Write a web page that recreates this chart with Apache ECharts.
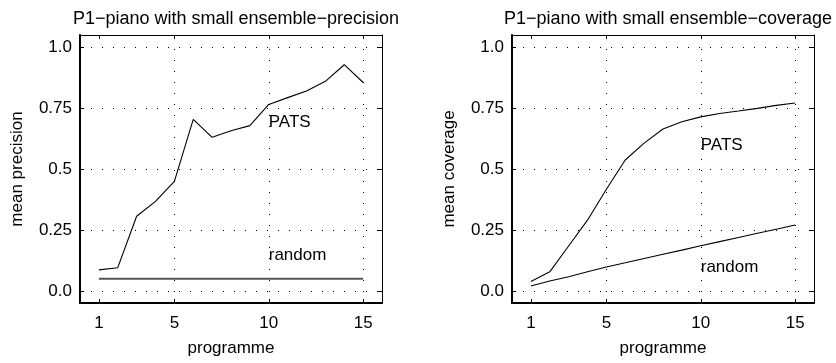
<!DOCTYPE html>
<html>
<head>
<meta charset="utf-8">
<script src="https://cdn.jsdelivr.net/npm/echarts@6/dist/echarts.min.js"></script>
<style>html,body{margin:0;padding:0;background:#fff}#c{width:836px;height:363px}</style>
</head>
<body>
<div id="c"></div>
<script>
var programmes = [1,2,3,4,5,6,7,8,9,10,11,12,13,14,15];
var precisionPATS = [0.086,0.095,0.306,0.367,0.449,0.704,0.630,0.657,0.678,0.765,0.793,0.820,0.860,0.928,0.855];
var precisionRandom = [0.05,0.05,0.05,0.05,0.05,0.05,0.05,0.05,0.05,0.05,0.05,0.05,0.05,0.05,0.05];
var coveragePATS = [0.038,0.078,0.184,0.290,0.417,0.537,0.606,0.664,0.694,0.714,0.728,0.738,0.749,0.761,0.771];
var coverageRandom = [0.020,0.040,0.058,0.078,0.098,0.115,0.133,0.150,0.167,0.185,0.202,0.219,0.236,0.253,0.270];
var xTicks = [1,5,10,15];
var xGrid = [5,10,15];
var yTicks = [0,0.25,0.5,0.75,1];
var yTickLabels = ['0.0','0.25','0.5','0.75','1.0'];
var titles = ['P1\u2212piano with small ensemble\u2212precision','P1\u2212piano with small ensemble\u2212coverage'];
var yNames = ['mean precision','mean coverage'];
var xName = 'programme';
var labelPATS = 'PATS', labelRandom = 'random';
var annotPrec = {pats:[10,0.69], random:[10,0.146]};
var annotCov = {pats:[10,0.596], random:[10,0.095]};

var FONT = 'Liberation Sans, Arial, sans-serif';
function pairs(xs, ys){ return xs.map(function(x,i){return [x, ys[i]];}); }
function yFmt(v){ var i = yTicks.indexOf(v); return i>=0 ? yTickLabels[i] : ''; }

var grids = [
  {left:80, top:35, width:302, height:268, outerBoundsMode:'none', containLabel:false},
  {left:512, top:35, width:302, height:268, outerBoundsMode:'none', containLabel:false}
];
var xAxes = [], yAxes = [], series = [];
for (var g=0; g<2; g++){
  xAxes.push({type:'value', gridIndex:g, min:0, max:16, position:'bottom',
    name:xName, nameLocation:'middle', nameGap:37,
    nameTextStyle:{fontFamily:FONT, fontSize:17, color:'#000'},
    axisLine:{show:true, onZero:false, lineStyle:{color:'#000', width:2}},
    axisTick:{show:true, inside:true, length:4, customValues:xTicks, lineStyle:{color:'#000'}},
    axisLabel:{show:true, customValues:xTicks, margin:12, fontFamily:FONT, fontSize:17, color:'#000'},
    splitLine:{show:false}});
  xAxes.push({type:'value', gridIndex:g, min:0, max:16, position:'top',
    axisLine:{show:true, onZero:false, lineStyle:{color:'#000', width:1}},
    axisTick:{show:true, inside:true, length:4, customValues:xTicks, lineStyle:{color:'#000'}},
    axisLabel:{show:false}, splitLine:{show:false}});
  yAxes.push({type:'value', gridIndex:g, min:-0.05, max:1.05, position:'left',
    name:yNames[g], nameLocation:'middle', nameGap:54,
    nameTextStyle:{fontFamily:FONT, fontSize:17, color:'#000'},
    axisLine:{show:true, onZero:false, lineStyle:{color:'#000', width:2}},
    axisTick:{show:true, inside:true, length:4, customValues:yTicks, lineStyle:{color:'#000'}},
    axisLabel:{show:true, customValues:yTicks, formatter:yFmt, margin:8, fontFamily:FONT, fontSize:17, color:'#000'},
    splitLine:{show:false}});
  yAxes.push({type:'value', gridIndex:g, min:-0.05, max:1.05, position:'right',
    axisLine:{show:true, onZero:false, lineStyle:{color:'#000', width:1}},
    axisTick:{show:true, inside:true, length:4, customValues:yTicks, lineStyle:{color:'#000'}},
    axisLabel:{show:false}, splitLine:{show:false}});
}

function gridSeries(g){
  var data = [];
  yTicks.forEach(function(v){ data.push({yAxis:v}); });
  xGrid.forEach(function(v){ data.push({xAxis:v}); });
  return {type:'line', xAxisIndex:2*g, yAxisIndex:2*g, data:[], silent:true,
    markLine:{silent:true, symbol:['none','none'], label:{show:false},
      lineStyle:{color:'#000', width:1, type:[1,10]}, data:data}};
}
function lineSeries(g, ys, color, width){
  return {type:'line', xAxisIndex:2*g, yAxisIndex:2*g, data:pairs(programmes, ys),
    showSymbol:false, symbol:'none', lineStyle:{color:color, width:width}, z:5, animation:false};
}
function textSeries(g, pt, txt){
  return {type:'scatter', xAxisIndex:2*g, yAxisIndex:2*g, data:[pt], symbolSize:0,
    itemStyle:{color:'#000'}, silent:true,
    label:{show:true, position:'right', distance:0, formatter:txt, fontFamily:FONT, fontSize:17, color:'#000', opacity:1}, z:6};
}

series.push(gridSeries(0), gridSeries(1));
series.push(lineSeries(0, precisionPATS, '#000', 1.1));
series.push(lineSeries(0, precisionRandom, '#555', 2));
series.push(lineSeries(1, coveragePATS, '#000', 1.1));
series.push(lineSeries(1, coverageRandom, '#000', 1.1));
series.push(textSeries(0, annotPrec.pats, labelPATS), textSeries(0, annotPrec.random, labelRandom));
series.push(textSeries(1, annotCov.pats, labelPATS), textSeries(1, annotCov.random, labelRandom));

var chart = echarts.init(document.getElementById('c'), null, {renderer:'canvas'});
chart.setOption({
  animation:false,
  backgroundColor:'#fff',
  title:[
    {text:titles[0], left:231, top:5, textAlign:'center', textStyle:{fontFamily:FONT, fontSize:18, fontWeight:'normal', color:'#000'}},
    {text:titles[1], left:663, top:5, textAlign:'center', textStyle:{fontFamily:FONT, fontSize:18, fontWeight:'normal', color:'#000'}}
  ],
  grid:grids, xAxis:xAxes, yAxis:yAxes, series:series
});
</script>
</body>
</html>
